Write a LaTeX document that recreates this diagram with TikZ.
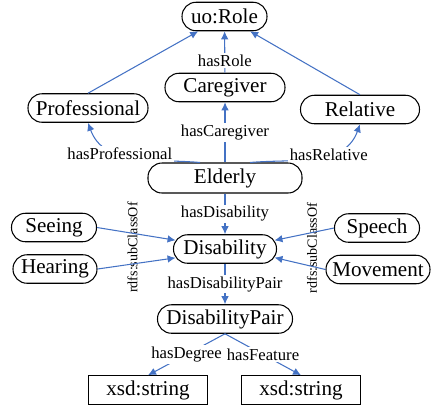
\documentclass[tikz,border=0pt]{standalone}
\usepackage{fontspec}
\setmainfont{Liberation Serif}
\usepackage{xcolor}
\usetikzlibrary{
    shapes,
    arrows.meta,
    positioning
}
\definecolor{propblue}{RGB}{68,114,196}

\begin{document}
\begin{tikzpicture}
                  \useasboundingbox (0,0) rectangle (8.7,-8.16);

                  % Styles for classes, literals and properties
                  \tikzset{
                        class/.style={draw, rectangle, rounded corners=0.28cm, line width=0.6pt, minimum height=0.57cm, inner sep=1pt, font=\large},
                        literal/.style={draw, rectangle, line width=0.6pt, minimum height=0.57cm, minimum width=2.38cm, inner sep=1pt, font=\large},
                        prop/.style={->, >={Latex[length=1.6mm,width=1.5mm]}, line width=0.6pt, propblue},
                        plabel/.style={fill=white, inner sep=1pt, text=black, font=\fontsize{9.5}{11}\selectfont},
                        subclass/.style={rotate=90, inner sep=0pt, font=\footnotesize}
                  };

                  % Roles
                  \node[class, minimum width=1.7cm] (Role) at (4.49,-0.33) {uo:Role};
                  \node[class, minimum width=2.4cm] (Caregiver) at (4.5,-1.75) {Caregiver};
                  \node[class, minimum width=2.4cm] (Professional) at (1.76,-2.16) {Professional};
                  \node[class, minimum width=2.38cm] (Relative) at (7.2,-2.19) {Relative};
                  \node[class, minimum width=3.08cm, minimum height=0.6cm] (Elderly) at (4.5,-3.56) {Elderly};

                  % Disabilities
                  \node[class, minimum width=1.7cm] (Seeing) at (1.08,-4.55) {Seeing};
                  \node[class, minimum width=1.68cm] (Hearing) at (1.1,-5.38) {Hearing};
                  \node[class, minimum width=2.06cm] (Disability) at (4.5,-4.98) {Disability};
                  \node[class, minimum width=1.7cm] (Speech) at (7.54,-4.56) {Speech};
                  \node[class, minimum width=2.08cm] (Movement) at (7.56,-5.39) {Movement};
                  \node[class, minimum width=2.7cm] (DisabilityPair) at (4.5,-6.38) {DisabilityPair};

                  % Literal values
                  \node[literal] (DegreeStr) at (2.96,-7.8) {xsd:string};
                  \node[literal] (FeatureStr) at (6.02,-7.8) {xsd:string};

                  % Subclass labels
                  \node[subclass] (SubLeft) at (2.65,-4.95) {rdfs:subClassOf};
                  \node[subclass] (SubRight) at (6.24,-4.96) {rdfs:subClassOf};

                  % Properties
                  \draw[prop] (Professional.north) -- (Role);
                  \draw[prop] (Relative.north) -- (Role);
                  \draw[prop] (Caregiver) -- node[plabel, pos=0.3] {hasRole} (Role);
                  \draw[prop] (Elderly) -- node[plabel] {hasCaregiver} (Caregiver);
                  \draw[prop] ([xshift=-0.5cm]Elderly.north) to[out=175, in=-70] node[plabel, pos=0.61] {hasProfessional} (Professional.south);
                  \draw[prop] ([xshift=0.5cm]Elderly.north) to[out=5, in=-110] node[plabel, pos=0.61] {hasRelative} (Relative.south);
                  \draw[prop] (Elderly) -- node[plabel] {hasDisability} (Disability);

                  \draw[prop, shorten >=-1.5pt] (Seeing.east) -- (Disability.170);
                  \draw[prop, shorten >=-1.5pt] (Hearing.east) -- (Disability.190);
                  \draw[prop, shorten >=-1.5pt] (Speech.west) -- (Disability.10);
                  \draw[prop, shorten >=-1.5pt] (Movement.west) -- (Disability.-10);

                  \draw[prop] (Disability) -- node[plabel] {hasDisabilityPair} (DisabilityPair);
                  \draw[prop] (DisabilityPair.south) -- node[plabel] {hasDegree} (DegreeStr.north);
                  \draw[prop] (DisabilityPair.south) -- node[plabel] {hasFeature} (FeatureStr.north);
            \end{tikzpicture}
\end{document}
